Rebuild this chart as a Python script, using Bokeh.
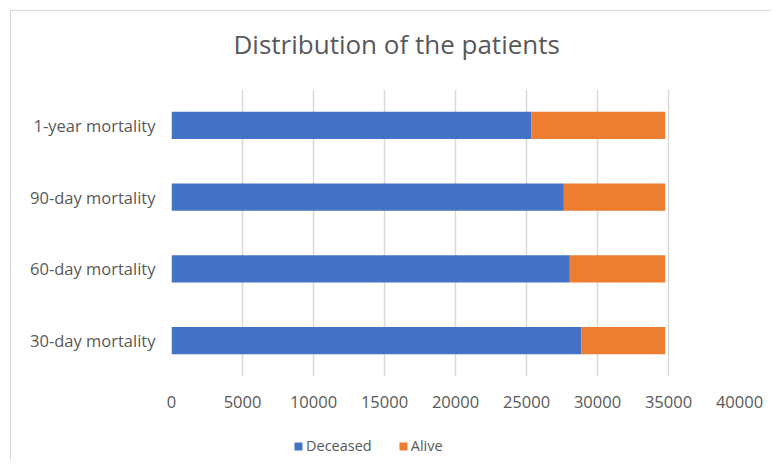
from bokeh.plotting import figure
from bokeh.models import (FactorRange, Range1d, FixedTicker, Legend, LegendItem,
                          ColumnDataSource)
from bokeh.layouts import column
from bokeh.core.properties import value
from bokeh.embed import file_html
from bokeh.resources import INLINE

categories = ["30-day mortality", "60-day mortality", "90-day mortality", "1-year mortality"]
deceased = [28850, 28050, 27630, 25330]
alive = [5920, 6720, 7140, 9440]
x_ticks = [0, 5000, 10000, 15000, 20000, 25000, 30000, 35000, 40000]
series_names = ["Deceased", "Alive"]
colors = ["#4472C4", "#ED7D31"]
chart_title = "Distribution of the patients"

src = ColumnDataSource(dict(cat=categories, Deceased=deceased, Alive=alive))

FONT = "Open Sans"
GREY = "#595959"
W = 760
FW = 568  # frame width (frames are aligned in the column)

# --- title strip ---
TH = 78
pt = figure(width=W, height=TH, output_backend="svg", toolbar_location=None,
            x_range=Range1d(0, FW), y_range=Range1d(0, TH),
            x_axis_location=None, y_axis_location=None,
            min_border=0, outline_line_color=None)
pt.grid.visible = False
pt.text(x=[62], y=[TH - 32], text=[chart_title], text_align="left",
        text_baseline="middle", text_font=value(FONT), text_font_size="26px",
        text_color=GREY)

# --- main chart ---
p = figure(output_backend="svg", toolbar_location=None,
           y_range=FactorRange(factors=categories, range_padding=0),
           x_range=Range1d(0, 40000),
           frame_width=FW, frame_height=287,
           min_border_left=160, min_border_right=32,
           min_border_top=0, min_border_bottom=48)
p.outline_line_color = None

rs = p.hbar_stack(series_names, y="cat", height=0.38, color=colors,
                  line_color=None, source=src)

p.xaxis.ticker = FixedTicker(ticks=x_ticks)
p.xaxis.axis_line_color = None
p.xaxis.major_tick_line_color = None
p.xaxis.minor_tick_line_color = None
p.xaxis.major_label_text_font = FONT
p.xaxis.major_label_text_font_size = "16.5px"
p.xaxis.major_label_text_color = GREY
p.xaxis.major_label_standoff = 13

p.yaxis.axis_line_color = None
p.yaxis.major_tick_line_color = None
p.yaxis.minor_tick_line_color = None
p.yaxis.major_label_text_font = FONT
p.yaxis.major_label_text_font_size = "16.5px"
p.yaxis.major_label_text_color = GREY
p.yaxis.major_label_standoff = 10

p.xgrid.grid_line_color = "#d9d9d9"
p.xgrid.grid_line_width = 1.5
p.ygrid.grid_line_color = None

# --- legend strip ---
LH = 36
pl = figure(width=W, height=LH, output_backend="svg", toolbar_location=None,
            x_range=Range1d(0, 1), y_range=Range1d(0, 1),
            x_axis_location=None, y_axis_location=None,
            min_border=0, outline_line_color=None)
pl.grid.visible = False
lr = [pl.rect(x=[5], y=[5], width=1, height=1, fill_color=c, line_color=None)
      for c in colors]
legend = Legend(items=[LegendItem(label=n, renderers=[r]) for n, r in zip(series_names, lr)],
                orientation="horizontal", location=(122, 5),
                glyph_width=10, glyph_height=10, label_standoff=3, spacing=26,
                padding=0, margin=0, border_line_color=None, background_fill_alpha=0,
                label_text_font=FONT, label_text_font_size="14.5px", label_text_color=GREY)
pl.add_layout(legend, "center")

layout = column(pt, p, pl, spacing=0)
layout.margin = (10, 0, 0, 10)
layout.styles = {"border-top": "1px solid #d9d9d9", "border-left": "1px solid #d9d9d9"}

open("out.html", "w").write(file_html(layout, INLINE))
